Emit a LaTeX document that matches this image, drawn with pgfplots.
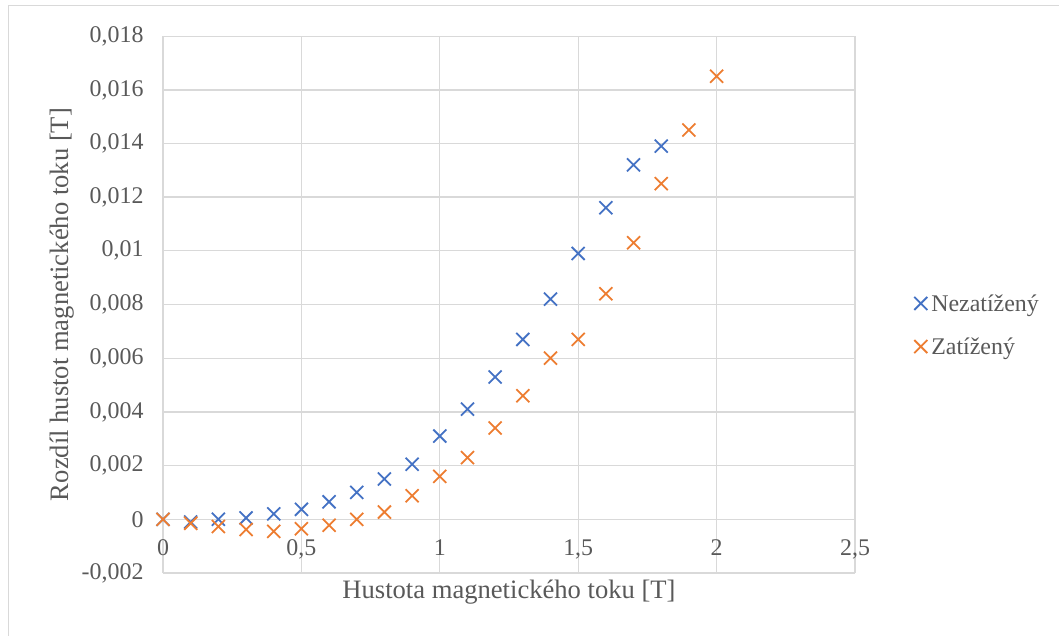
\documentclass[border=0pt]{standalone}
\usepackage{fontspec}
\setmainfont{Liberation Serif}
\usepackage{pgfplots}
\pgfplotsset{compat=1.18}

\definecolor{serA}{HTML}{4472C4}
\definecolor{serB}{HTML}{ED7D31}
\definecolor{gridc}{HTML}{D9D9D9}
\definecolor{axisc}{HTML}{BFBFBF}
\definecolor{txt}{HTML}{595959}

\begin{document}
\begin{tikzpicture}[x=1bp,y=1bp]
\useasboundingbox (0,0) rectangle (1059,636);
\draw[gridc, line width=1bp] (8,0) -- (8,630) -- (1059,630);
\begin{axis}[
    at={(163bp,63bp)}, anchor=south west,
    scale only axis,
    width=692bp, height=537bp,
    xmin=0, xmax=2.5, ymin=-0.002, ymax=0.018,
    xtick={0,0.5,...,2.5},
    ytick={-0.002,0,0.002,...,0.018},
    scaled y ticks=false,
    axis line style={draw=none},
    major tick length=0pt,
    grid=major,
    major grid style={gridc, line width=1.3bp},
    extra y ticks={0},
    extra y tick labels={},
    extra y tick style={grid style={axisc, line width=1.3bp}},
    /pgf/number format/assume math mode=true,
    /pgf/number format/use comma,
    /pgf/number format/1000 sep={},
    /pgf/number format/fixed,
    /pgf/number format/precision=3,
    ticklabel style={font=\fontsize{24}{28}\selectfont, text=txt},
    yticklabel style={xshift=-16bp},
    xticklabel style={yshift=37bp},
    xlabel={Hustota magnetického toku [T]},
    ylabel={Rozdíl hustot magnetického toku [T]},
    label style={font=\fontsize{26.7}{30}\selectfont, text=txt},
    xlabel style={at={(axis description cs:0.5,0)}, anchor=center, yshift=-19bp},
    ylabel style={at={(axis description cs:0,0.5)}, anchor=center, yshift=101bp},
    legend style={at={(axis description cs:1.0854,0.4618)}, anchor=west,
        draw=none, fill=none, font=\fontsize{24}{28}\selectfont, text=txt,
        row sep=23bp, column sep=3bp, inner sep=0pt,
        nodes={inner sep=1bp}},
    legend cell align=left,
    legend image code/.code={\draw[#1] plot coordinates {(4bp,0bp)};},
    clip=false,
]
\addplot[only marks, mark=x, mark size=9.2bp, serA, line width=1.8bp] coordinates {
    (0,0) (0.1,-0.0001) (0.2,0) (0.3,0.00005) (0.4,0.0002) (0.5,0.00037)
    (0.6,0.00065) (0.7,0.001) (0.8,0.0015) (0.9,0.00205) (1.0,0.0031)
    (1.1,0.0041) (1.2,0.0053) (1.3,0.0067) (1.4,0.0082) (1.5,0.0099)
    (1.6,0.0116) (1.7,0.0132) (1.8,0.0139)
};
\addlegendentry{Nezatížený}
\addplot[only marks, mark=x, mark size=9.2bp, serB, line width=1.8bp] coordinates {
    (0,0) (0.1,-0.00015) (0.2,-0.00027) (0.3,-0.00038) (0.4,-0.00045) (0.5,-0.00035)
    (0.6,-0.00022) (0.7,0) (0.8,0.00027) (0.9,0.00088) (1.0,0.0016)
    (1.1,0.0023) (1.2,0.0034) (1.3,0.0046) (1.4,0.006) (1.5,0.0067)
    (1.6,0.0084) (1.7,0.0103) (1.8,0.0125) (1.9,0.0145) (2.0,0.0165)
};
\addlegendentry{Zatížený}
\end{axis}
\end{tikzpicture}
\end{document}
